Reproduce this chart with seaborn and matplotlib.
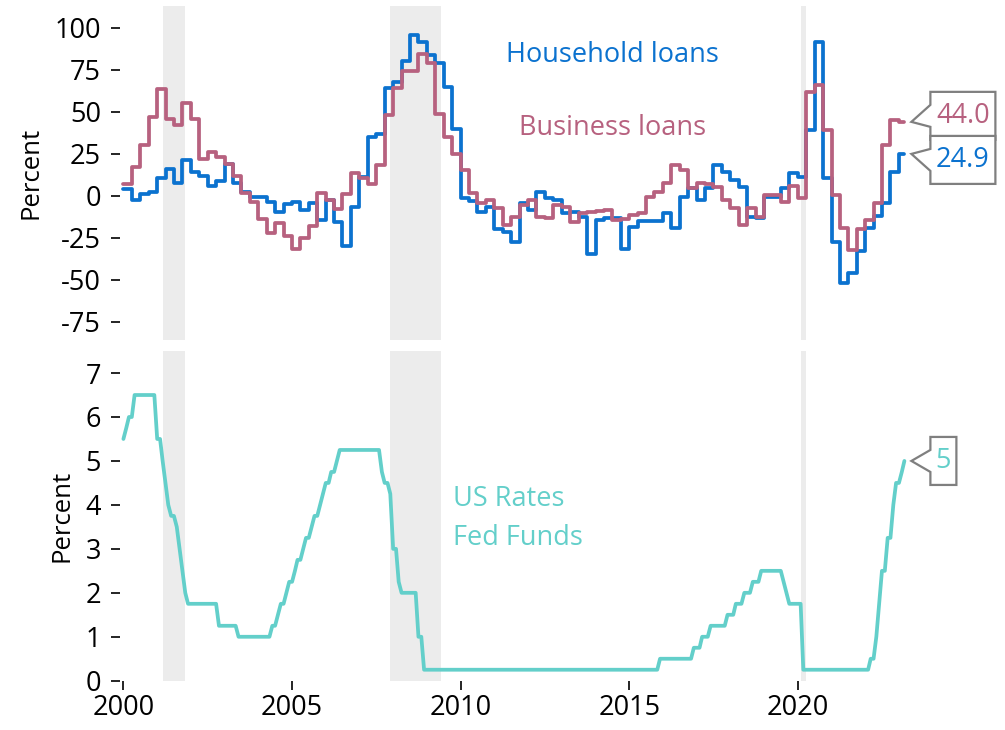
import pandas as pd
import matplotlib
matplotlib.use('Agg')
import matplotlib.pyplot as plt
import matplotlib.dates as mdates
import matplotlib.transforms as mtransforms
from matplotlib.patches import Polygon
import seaborn as sns

# Loan officer survey, net % of banks (quarterly, 2000Q1 .. 2023Q1)
household = [
    4, -2.6, 1, 2.4,
    10.3, 16, 7.3, 21,
    14, 11.7, 6, 9,
    19, 7.3, 2.4, -0.6,
    -0.6, -3.6, -9.5, -5,
    -3.6, -8.5, -4.6, -14.5,
    -2.6, -15.5, -30, -6.5,
    11, 35, 37, 64,
    68, 80, 95.6, 91.7,
    83.7, 78.8, 65, 40,
    -1.6, -3, -9.5, -6.5,
    -20, -21.5, -27.4, -4.6,
    -8.5, 2.4, -1.6, -2.6,
    -10.5, -9.5, -12.5, -35,
    -14.5, -13.5, -13.5, -32,
    -18.4, -15, -15, -15,
    -10.5, -19.4, -0.6, 4.4,
    -2.6, 4.4, 18.3, 14.3,
    9.3, 5.4, -12.5, -13.5,
    -0.6, -0.6, 4.4, 13.3,
    11.3, 39, 91.7, 10.3,
    -27.4, -52.2, -46.2, -33,
    -19, -12, -4.6, 14.3,
    24.9,
]
business = [
    7, 17, 30, 47,
    63.5, 45.6, 42, 55,
    45.6, 22, 26, 23,
    19, 12, 1.4, -3.6,
    -14, -22.4, -16.5, -24,
    -32, -25.4, -18, 1.8,
    -2.6, -8, 1, 13.3,
    10.3, 6.7, 18.3, 48,
    64, 74.4, 74.4, 84.7,
    78.8, 48.4, 35, 24.8,
    15.3, 1.4, -4.6, -2.6,
    -7.5, -17.5, -12.5, -5.6,
    -2.6, -12.5, -13.5, -5.5,
    -6.5, -15.5, -10.5, -9.5,
    -9, -8.5, -14.5, -14,
    -11.5, -10.5, -0.6, 2.4,
    7.3, 18.3, 15.3, 4.4,
    7.7, 7, 5.4, -2.6,
    -7.5, -17.5, -7.5, -12.5,
    0.4, 0.4, -3.6, 6,
    -1.6, 62, 66, 39,
    0.4, -19.4, -32.3, -20,
    -14.5, -4.6, 30.2, 45,
    44.0,
]

# Fed funds target, upper bound (monthly, 2000-01 .. 2023-03)
fed_funds = [
    5.5, 5.75, 6.0, 6.0, 6.5, 6.5, 6.5, 6.5, 6.5, 6.5, 6.5, 6.5,
    5.5, 5.5, 5.0, 4.5, 4.0, 3.75, 3.75, 3.5, 3.0, 2.5, 2.0, 1.75,
    1.75, 1.75, 1.75, 1.75, 1.75, 1.75, 1.75, 1.75, 1.75, 1.75, 1.25, 1.25,
    1.25, 1.25, 1.25, 1.25, 1.25, 1.0, 1.0, 1.0, 1.0, 1.0, 1.0, 1.0,
    1.0, 1.0, 1.0, 1.0, 1.0, 1.25, 1.25, 1.5, 1.75, 1.75, 2.0, 2.25,
    2.25, 2.5, 2.75, 2.75, 3.0, 3.25, 3.25, 3.5, 3.75, 3.75, 4.0, 4.25,
    4.5, 4.5, 4.75, 4.75, 5.0, 5.25, 5.25, 5.25, 5.25, 5.25, 5.25, 5.25,
    5.25, 5.25, 5.25, 5.25, 5.25, 5.25, 5.25, 5.25, 4.75, 4.5, 4.5, 4.25,
    3.0, 3.0, 2.25, 2.0, 2.0, 2.0, 2.0, 2.0, 2.0, 1.0, 1.0, 0.25,
    0.25, 0.25, 0.25, 0.25, 0.25, 0.25, 0.25, 0.25, 0.25, 0.25, 0.25, 0.25,
    0.25, 0.25, 0.25, 0.25, 0.25, 0.25, 0.25, 0.25, 0.25, 0.25, 0.25, 0.25,
    0.25, 0.25, 0.25, 0.25, 0.25, 0.25, 0.25, 0.25, 0.25, 0.25, 0.25, 0.25,
    0.25, 0.25, 0.25, 0.25, 0.25, 0.25, 0.25, 0.25, 0.25, 0.25, 0.25, 0.25,
    0.25, 0.25, 0.25, 0.25, 0.25, 0.25, 0.25, 0.25, 0.25, 0.25, 0.25, 0.25,
    0.25, 0.25, 0.25, 0.25, 0.25, 0.25, 0.25, 0.25, 0.25, 0.25, 0.25, 0.25,
    0.25, 0.25, 0.25, 0.25, 0.25, 0.25, 0.25, 0.25, 0.25, 0.25, 0.25, 0.5,
    0.5, 0.5, 0.5, 0.5, 0.5, 0.5, 0.5, 0.5, 0.5, 0.5, 0.5, 0.75,
    0.75, 0.75, 1.0, 1.0, 1.0, 1.25, 1.25, 1.25, 1.25, 1.25, 1.25, 1.5,
    1.5, 1.5, 1.75, 1.75, 1.75, 2.0, 2.0, 2.0, 2.25, 2.25, 2.25, 2.5,
    2.5, 2.5, 2.5, 2.5, 2.5, 2.5, 2.5, 2.25, 2.0, 1.75, 1.75, 1.75,
    1.75, 1.75, 0.25, 0.25, 0.25, 0.25, 0.25, 0.25, 0.25, 0.25, 0.25, 0.25,
    0.25, 0.25, 0.25, 0.25, 0.25, 0.25, 0.25, 0.25, 0.25, 0.25, 0.25, 0.25,
    0.25, 0.25, 0.5, 0.5, 1.0, 1.75, 2.5, 2.5, 3.25, 3.25, 4.0, 4.5,
    4.5, 4.75, 5.0,
]

recessions = [('2001-03-01', '2001-11-01'),
              ('2007-12-01', '2009-06-01'),
              ('2020-02-01', '2020-04-01')]

BLUE = '#0B72CF'
MAUVE = '#B7617F'
TEAL = '#63CFCA'
SHADE = '#ECECEC'
FS = 19.5

sns.set_style('white')
plt.rcParams['font.family'] = ['Open Sans', 'DejaVu Sans']
plt.rcParams['axes.unicode_minus'] = False
plt.rcParams['text.color'] = 'black'
plt.rcParams['axes.labelcolor'] = 'black'
plt.rcParams['xtick.color'] = 'black'
plt.rcParams['ytick.color'] = 'black'

# quarterly data, last reading carried to the final month on the chart
loans = pd.DataFrame({
    'date': pd.date_range('2000-01-01', periods=len(household), freq='QS'),
    'Household loans': household,
    'Business loans': business,
})
loans = pd.concat([loans, loans.iloc[[-1]].assign(date=pd.Timestamp('2023-03-01'))])
loans_long = loans.melt('date', var_name='series', value_name='pct')

rates = pd.DataFrame({
    'date': pd.date_range('2000-01-01', periods=len(fed_funds), freq='MS'),
    'pct': fed_funds,
})

fig = plt.figure(figsize=(10.05, 7.3), dpi=100)
ax1 = fig.add_axes([0.1194, 0.5342, 0.8086, 0.4575])
ax2 = fig.add_axes([0.1194, 0.0675, 0.8086, 0.4516])

xmin, xmax = pd.Timestamp('1999-11-25'), pd.Timestamp('2024-01-01')

for ax in (ax1, ax2):
    for start, end in recessions:
        ax.axvspan(pd.Timestamp(start), pd.Timestamp(end), color=SHADE, lw=0, zorder=0)

sns.lineplot(data=loans_long, x='date', y='pct', hue='series',
             palette={'Household loans': BLUE, 'Business loans': MAUVE},
             hue_order=['Household loans', 'Business loans'],
             estimator=None, drawstyle='steps-post', linewidth=2.7,
             solid_joinstyle='round', solid_capstyle='round',
             legend=False, ax=ax1)
sns.lineplot(data=rates, x='date', y='pct', color=TEAL, linewidth=2.7,
             solid_joinstyle='round', ax=ax2)

ax1.set_xlim(xmin, xmax)
ax2.set_xlim(xmin, xmax)
ax1.set_ylim(-86, 113)
ax2.set_ylim(0, 7.5)
ax1.set_yticks([-75, -50, -25, 0, 25, 50, 75, 100])
ax2.set_yticks(range(0, 8))
ax1.set_xticks([])
ax2.xaxis.set_major_locator(mdates.YearLocator(5))
ax2.xaxis.set_major_formatter(mdates.DateFormatter('%Y'))

for ax in (ax1, ax2):
    sns.despine(ax=ax, left=True, bottom=True)
    ax.set_xlabel('')
    ax.set_ylabel('Percent', fontsize=FS - 1, labelpad=8)
    ax.tick_params(axis='y', left=True, length=6.5, width=1.2,
                   labelsize=FS, pad=7)
ax2.tick_params(axis='x', bottom=True, length=6.5, width=1.2,
                labelsize=FS, pad=3)

ax1.text(pd.Timestamp('2014-07-05'), 84, 'Household loans', color=BLUE,
         fontsize=FS, ha='center', va='center')
ax1.text(pd.Timestamp('2014-07-05'), 40.5, 'Business loans', color=MAUVE,
         fontsize=FS, ha='center', va='center')
ax2.text(pd.Timestamp('2009-10-10'), 4.13, 'US Rates', color=TEAL,
         fontsize=FS, ha='left', va='center')
ax2.text(pd.Timestamp('2009-10-10'), 3.25, 'Fed Funds', color=TEAL,
         fontsize=FS, ha='left', va='center')


def callout(ax, date, value, label, color, dy=0):
    # boxed value label with a notch pointing at the series end (sizes in px)
    dpi = fig.dpi
    tip, left, half_h, notch = 7, 26, 24, 11
    width = 13 * len(label) + 13
    right = left + width
    verts = [(tip, 0), (left, dy - notch), (left, dy - half_h), (right, dy - half_h),
             (right, dy + half_h), (left, dy + half_h), (left, dy + notch)]
    verts = [(vx / dpi, vy / dpi) for vx, vy in verts]
    trans = fig.dpi_scale_trans + mtransforms.ScaledTranslation(
        mdates.date2num(date), value, ax.transData)
    ax.add_patch(Polygon(verts, closed=True, facecolor='white', edgecolor='#7F7F7F',
                         lw=1.6, transform=trans, clip_on=False, zorder=5))
    ax.annotate(label, xy=(date, value), xytext=(left + width / 2, dy),
                textcoords='offset pixels', ha='center', va='center',
                color=color, fontsize=FS, zorder=6, annotation_clip=False)


end = loans['date'].iloc[-1]
callout(ax1, end, business[-1], f'{business[-1]:.1f}', MAUVE, dy=6)
callout(ax1, end, household[-1], f'{household[-1]:.1f}', BLUE, dy=-6)
callout(ax2, rates['date'].iloc[-1], fed_funds[-1], f'{fed_funds[-1]:g}', TEAL)

fig.savefig('out.png', dpi=100)
